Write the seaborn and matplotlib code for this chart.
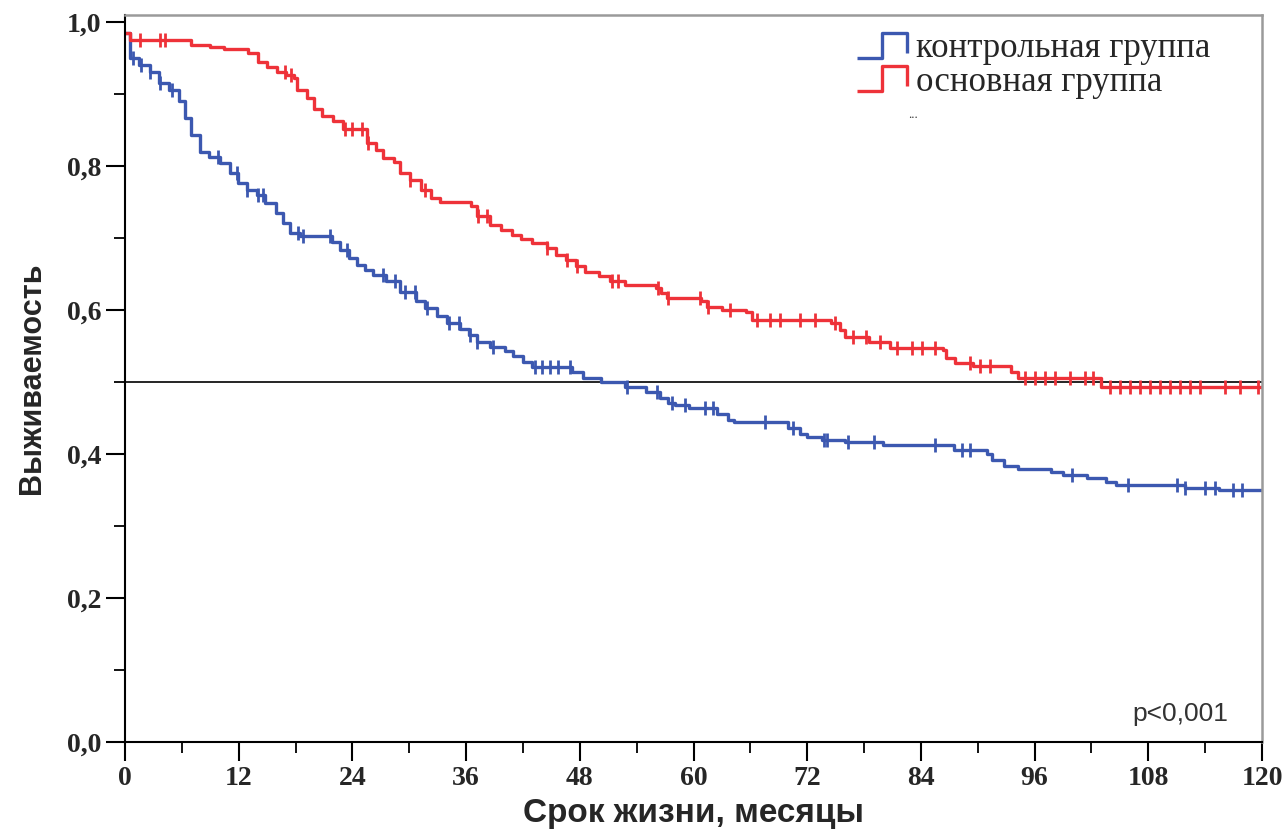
import numpy as np
import pandas as pd
import matplotlib
matplotlib.use("Agg")
import matplotlib.pyplot as plt
import seaborn as sns
from matplotlib.path import Path
from matplotlib.lines import Line2D
from matplotlib.ticker import MultipleLocator, FixedFormatter, FixedLocator

# ---------------- data ----------------
groups = ["контрольная группа", "основная группа"]

control_times = [0, 0.5, 1.5, 2.6, 3.6, 4.6, 5.7, 6.3, 7.0, 7.9, 8.9, 10.0, 11.1, 11.9,
                 12.9, 13.9, 14.8, 15.9, 16.7, 17.4, 18.5, 21.8, 22.7, 23.6, 24.5, 25.3,
                 26.2, 27.5, 29.0, 30.7, 31.7, 32.9, 34.0, 35.4, 36.3, 37.1, 38.5, 40.1,
                 41.0, 42.0, 43.0, 47.2, 48.3, 50.2, 52.8, 55.0, 56.5, 57.3, 58.1, 59.5,
                 62.5, 63.6, 64.3, 70.0, 71.2, 72.0, 73.6, 76.0, 80.0, 87.5, 91.0, 91.5,
                 92.8, 94.2, 97.7, 99.0, 101.5, 103.5, 104.6, 111.9, 115.5]
control_surv = [0.985, 0.95, 0.94, 0.93, 0.915, 0.905, 0.89, 0.867, 0.843, 0.82, 0.812,
                0.804, 0.79, 0.776, 0.767, 0.76, 0.749, 0.735, 0.721, 0.707, 0.703, 0.695,
                0.683, 0.672, 0.662, 0.656, 0.649, 0.64, 0.625, 0.613, 0.603, 0.592, 0.582,
                0.574, 0.565, 0.556, 0.549, 0.543, 0.536, 0.528, 0.521, 0.514, 0.506, 0.50,
                0.493, 0.486, 0.478, 0.471, 0.468, 0.464, 0.455, 0.447, 0.444, 0.436, 0.428,
                0.424, 0.419, 0.416, 0.4125, 0.406, 0.40, 0.392, 0.383, 0.379, 0.375, 0.371,
                0.367, 0.361, 0.357, 0.353, 0.35]
control_censored = [0.8, 1.7, 2.6, 3.7, 5.0, 9.8, 11.8, 12.9, 14.0, 14.6, 18.3, 18.8, 21.6,
                    23.4, 27.2, 28.5, 29.6, 30.6, 31.9, 34.2, 35.2, 36.4, 37.2, 38.8, 43.3,
                    44.0, 44.9, 45.7, 47.0, 53.0, 56.1, 57.7, 59.1, 61.2, 62.1, 67.5, 70.5,
                    73.8, 74.1, 76.3, 79.0, 85.5, 88.3, 89.2, 99.9, 105.9, 111.0, 111.9,
                    114.0, 115.0, 116.9, 117.9]

main_times = [0, 0.5, 7.0, 9.0, 10.5, 13.0, 14.0, 15.0, 16.0, 17.0, 17.8, 18.2, 19.2, 19.9,
              20.8, 22.0, 23.0, 25.5, 26.5, 27.2, 28.4, 29.0, 30.1, 31.2, 32.3, 33.2, 36.5,
              37.2, 38.5, 39.7, 40.8, 41.8, 43.0, 44.5, 45.5, 46.5, 47.6, 48.6, 50.0, 51.2,
              52.8, 56.0, 56.6, 57.2, 60.8, 61.4, 63.0, 65.5, 66.2, 74.5, 75.5, 76.0, 78.5,
              80.7, 86.3, 86.7, 87.6, 89.5, 93.5, 94.2, 103.0]
main_surv = [0.985, 0.975, 0.968, 0.965, 0.962, 0.957, 0.944, 0.9375, 0.93, 0.926, 0.922,
             0.906, 0.894, 0.879, 0.869, 0.862, 0.852, 0.832, 0.822, 0.811, 0.806, 0.79,
             0.781, 0.767, 0.756, 0.75, 0.744, 0.731, 0.718, 0.711, 0.704, 0.699, 0.693,
             0.686, 0.677, 0.669, 0.661, 0.653, 0.647, 0.64, 0.635, 0.631, 0.624, 0.617,
             0.613, 0.604, 0.60, 0.597, 0.586, 0.582, 0.572, 0.5625, 0.556, 0.547, 0.544,
             0.533, 0.526, 0.522, 0.514, 0.505, 0.493]
main_censored = [1.6, 3.7, 4.2, 16.9, 17.5, 23.2, 24.0, 25.0, 25.6, 30.1, 31.7, 37.3, 38.2,
                 44.5, 46.6, 47.7, 51.4, 52.0, 56.3, 57.3, 60.7, 61.5, 63.9, 66.7, 68.1,
                 69.1, 71.2, 72.8, 74.9, 76.8, 78.2, 79.7, 81.5, 83.1, 84.1, 85.5, 89.2,
                 90.2, 91.3, 95.0, 96.0, 97.1, 98.2, 99.7, 101.3, 102.2, 104.0, 105.0,
                 106.1, 107.1, 108.2, 109.2, 110.3, 111.3, 112.4, 113.5, 116.1, 117.7, 119.6]

x_ticks = [0, 12, 24, 36, 48, 60, 72, 84, 96, 108, 120]
x_tick_labels = ["0", "12", "24", "36", "48", "60", "72", "84", "96", "108", "120"]
y_ticks = [0.0, 0.2, 0.4, 0.6, 0.8, 1.0]
y_tick_labels = ["0,0", "0,2", "0,4", "0,6", "0,8", "1,0"]
x_label = "Срок жизни, месяцы"
y_label = "Выживаемость"
p_text = "p<0,001"
follow_up_end = 120

colors = {"контрольная группа": "#3c58b0", "основная группа": "#ee3239"}

# ---------------- build frames ----------------
def step_frame(times, surv, name):
    t = list(times) + [follow_up_end]
    s = list(surv) + [surv[-1]]
    return pd.DataFrame({"time": t, "surv": s, "group": name})

def censor_frame(times, surv, cens, name):
    idx = np.searchsorted(np.array(times), np.array(cens), side="right") - 1
    return pd.DataFrame({"time": cens, "surv": np.array(surv)[idx], "group": name})

steps = pd.concat([step_frame(control_times, control_surv, groups[0]),
                   step_frame(main_times, main_surv, groups[1])], ignore_index=True)
cens = pd.concat([censor_frame(control_times, control_surv, control_censored, groups[0]),
                  censor_frame(main_times, main_surv, main_censored, groups[1])],
                 ignore_index=True)

# ---------------- plot ----------------
sns.set_theme(style="white")
plt.rcParams["font.family"] = ["Liberation Serif", "DejaVu Serif"]

fig = plt.figure(figsize=(12.88, 8.34), dpi=100)
ax = fig.add_axes([125 / 1288, 92 / 834, (1262 - 125) / 1288, (819 - 92) / 834])

sns.lineplot(data=steps, x="time", y="surv", hue="group", palette=colors,
             drawstyle="steps-post", estimator=None, sort=False, linewidth=2.4,
             legend=False, ax=ax)
for g in groups:
    sub = cens[cens["group"] == g]
    ax.plot(sub["time"], sub["surv"], linestyle="none", marker="|", markersize=10,
            markeredgewidth=2.0, color=colors[g])

ax.axhline(0.5, color="black", linewidth=1.2, zorder=1)

ax.set_xlim(0, 120)
ax.set_ylim(0, 1.0097)
ax.xaxis.set_major_locator(FixedLocator(x_ticks))
ax.xaxis.set_major_formatter(FixedFormatter(x_tick_labels))
ax.xaxis.set_minor_locator(MultipleLocator(6))
ax.yaxis.set_major_locator(FixedLocator(y_ticks))
ax.yaxis.set_major_formatter(FixedFormatter(y_tick_labels))
ax.yaxis.set_minor_locator(MultipleLocator(0.1))

ax.tick_params(axis="both", which="major", direction="out", length=14, width=1.5,
               color="black", labelsize=20, pad=3, bottom=True, left=True)
ax.tick_params(axis="both", which="minor", direction="out", length=8, width=1.3,
               color="black", bottom=True, left=True)
for lab in ax.get_xticklabels() + ax.get_yticklabels():
    lab.set_fontweight("bold")

for side in ["left", "bottom"]:
    ax.spines[side].set_color("black")
    ax.spines[side].set_linewidth(1.5)
for side in ["top", "right"]:
    ax.spines[side].set_color("#9a9a9a")
    ax.spines[side].set_linewidth(1.8)

ax.set_xlabel(x_label, fontsize=24, fontweight="bold",
              family=["Liberation Sans", "DejaVu Sans"], labelpad=5)
ax.set_ylabel(y_label, fontsize=22, fontweight="bold",
              family=["Liberation Sans", "DejaVu Sans"], labelpad=14)

ax.text(0.97, 0.022, p_text, transform=ax.transAxes, ha="right", va="bottom",
        fontsize=19, color="#333333", family=["Liberation Sans", "DejaVu Sans"])

# legend with step-shaped handles
step_marker = Path([(-1.0, -0.5), (0.0, -0.5), (0.0, 0.5), (1.0, 0.5), (1.0, -0.3)],
                   [Path.MOVETO, Path.LINETO, Path.LINETO, Path.LINETO, Path.LINETO])
handles = [Line2D([], [], linestyle="none", marker=step_marker, markersize=36,
                  markerfacecolor="none", markeredgecolor=colors[g], markeredgewidth=2.4)
           for g in groups]
leg = fig.legend(handles, groups, loc="upper left",
                 bbox_to_anchor=(838 / 1288, (834 - 18) / 834), frameon=False,
                 fontsize=25, handlelength=1.75, handletextpad=0.1, labelspacing=0.02,
                 borderaxespad=0)
fig.text(908 / 1288, (834 - 118) / 834, "...", fontsize=9, color="#333333")

fig.savefig("out.png", dpi=100, facecolor="white")
